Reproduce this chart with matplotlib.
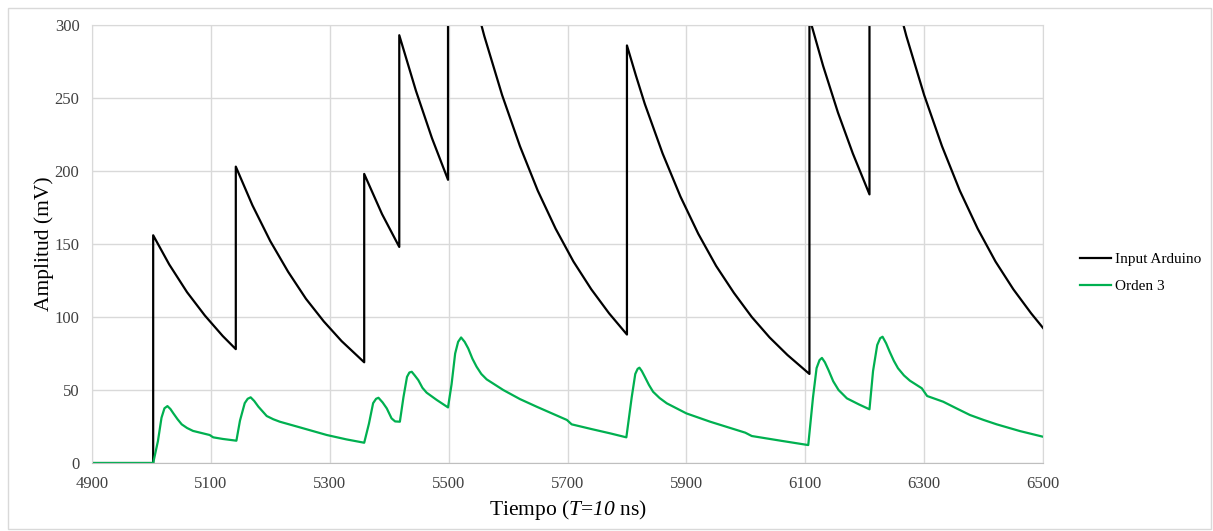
import matplotlib
matplotlib.use('Agg')
import matplotlib.pyplot as plt
from matplotlib.patches import Rectangle

plt.rcParams['font.family'] = ['Liberation Serif', 'DejaVu Serif']
plt.rcParams['mathtext.fontset'] = 'custom'
plt.rcParams['mathtext.rm'] = 'Liberation Serif'
plt.rcParams['mathtext.cal'] = 'Liberation Serif:italic'

# Input Arduino (mV) - repeated times mark the jumps
t_in = [4900, 5003, 5003, 5030, 5060, 5090, 5120, 5142,
        5142, 5170, 5200, 5230, 5260, 5290, 5320, 5358,
        5358, 5388, 5417,
        5417, 5445, 5472, 5499,
        5499, 5515, 5530, 5545, 5560, 5590, 5620, 5650, 5680, 5710, 5740, 5770, 5800,
        5800, 5815, 5830, 5860, 5890, 5920, 5950, 5980, 6010, 6040, 6070, 6107,
        6107, 6130, 6155, 6180, 6208,
        6208, 6225, 6240, 6255, 6270, 6300, 6330, 6360, 6390, 6420, 6450, 6480, 6500]
v_in = [0, 0, 156, 136, 117, 101, 87, 78,
        203, 176.5, 152, 131, 112.5, 97, 83.5, 69,
        198, 170.5, 148,
        293, 255, 222.5, 194,
        397, 368, 340, 315.5, 292.5, 252, 217, 186.5, 160.5, 138, 119, 102.5, 88,
        286, 265.5, 246, 212, 182.5, 157, 135, 116.5, 100, 86, 74, 61,
        305, 272, 240, 212, 184,
        399, 366.5, 340, 315.5, 292.5, 252, 217, 186.5, 160.5, 138, 119, 102.5, 92.5]

# Orden 3 filter output (mV)
t_o3 = [4900, 5003, 5011, 5017, 5022, 5027, 5032, 5037, 5044, 5051, 5060, 5070, 5085,
        5098, 5104, 5120, 5143, 5149, 5157, 5162, 5167, 5173, 5180, 5194, 5205, 5216,
        5250, 5295, 5328, 5358, 5366, 5373, 5378, 5382, 5389, 5396, 5400, 5404, 5410,
        5418, 5424, 5430, 5434, 5438, 5443, 5449, 5456, 5463, 5480, 5499, 5505, 5511,
        5516, 5521, 5527, 5533, 5540, 5547, 5555, 5564, 5592, 5620, 5648, 5676, 5699,
        5707, 5740, 5772, 5799, 5808, 5814, 5818, 5821, 5825, 5830, 5837, 5844, 5855,
        5867, 5900, 5940, 5999, 6010, 6060, 6105, 6113, 6119, 6124, 6128, 6133, 6139,
        6147, 6156, 6170, 6190, 6208, 6214, 6221, 6226, 6230, 6236, 6242, 6249, 6256,
        6266, 6276, 6296, 6305, 6332, 6355, 6377, 6400, 6422, 6461, 6500]
v_o3 = [0, 0, 15, 31, 37.5, 39, 37, 34, 30, 26.5, 24, 22, 20.5,
        19.2, 17.6, 16.5, 15.3, 29, 41, 44, 45, 42.5, 38.6, 32.2, 30, 28.3,
        24.4, 19.2, 16.2, 13.9, 27, 41, 44, 44.7, 41.5, 37.4, 34, 30.6, 28.5,
        28.3, 45, 59, 62, 62.5, 60, 56.8, 51.5, 48.2, 43.2, 38.1, 54, 75,
        83, 86, 83, 78.5, 71.5, 66, 61, 57.3, 50, 43.8, 38.6, 33.6, 29.5,
        26.5, 23.3, 20.3, 17.6, 45, 61, 64.5, 65.3, 63, 59.1, 53.5, 48.8, 44.5,
        40.9, 34, 28.3, 20.8, 18.5, 15.2, 12.3, 45, 65, 70.5, 72, 69, 63.7,
        56, 50, 44.3, 40.2, 36.8, 63, 80.8, 85.5, 86.5, 82, 76.2, 70, 64.9,
        60, 56.4, 51.2, 45.9, 42, 37.3, 32.9, 29.5, 26.5, 21.9, 18]

xticks = [4900, 5100, 5300, 5500, 5700, 5900, 6100, 6300, 6500]
yticks = [0, 50, 100, 150, 200, 250, 300]

fig = plt.figure(figsize=(12.13, 5.31), dpi=100)
ax = fig.add_axes([0.0758, 0.128, 0.7841, 0.8249])

ax.plot(t_in, v_in, color='black', linewidth=1.6, label='Input Arduino')
ax.plot(t_o3, v_o3, color='#00b050', linewidth=1.6, label='Orden 3')

ax.set_xlim(4900, 6500)
ax.set_ylim(0, 300)
ax.set_xticks(xticks)
ax.set_yticks(yticks)
ax.tick_params(length=0, labelsize=12, colors='#404040')
ax.tick_params(axis='x', pad=9)
ax.tick_params(axis='y', pad=9)
ax.grid(True, color='#d9d9d9', linewidth=1)
ax.set_axisbelow(True)
for s in ax.spines.values():
    s.set_color('#d9d9d9')
ax.spines['bottom'].set_color('#bfbfbf')

ax.set_xlabel(r'Tiempo ($\mathcal{T}$=$\mathcal{10}$ ns)', fontsize=15.5, labelpad=5)
ax.set_ylabel('Amplitud (mV)', fontsize=15.5, labelpad=0)

fig.legend(loc='center left', bbox_to_anchor=(0.879, 0.486), frameon=False,
           fontsize=11, handlelength=2.0, handletextpad=0.3, labelspacing=0.85)

# chart border
fig.patches.append(Rectangle((0.0066, 0.003), 0.992, 0.982, transform=fig.transFigure,
                             fill=False, edgecolor='#d9d9d9', linewidth=1))

fig.savefig('out.png', dpi=100)
